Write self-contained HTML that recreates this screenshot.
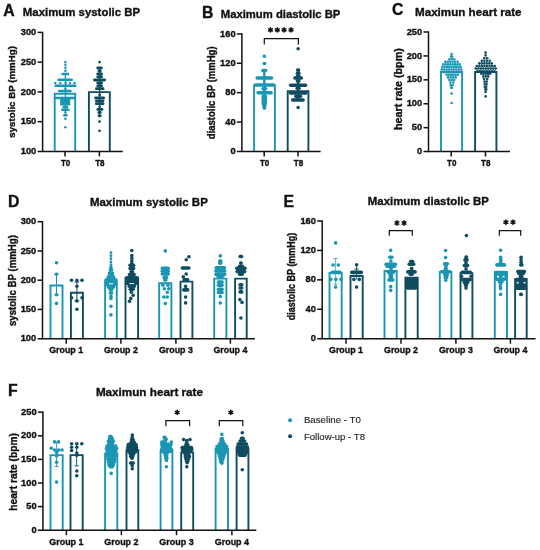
<!DOCTYPE html>
<html><head><meta charset="utf-8"><style>
html,body{margin:0;padding:0;background:#fff;}
svg{display:block;filter:blur(0.3px);font-family:"Liberation Sans", sans-serif;}
</style></head><body>
<svg width="540" height="550" viewBox="0 0 540 550">
<rect width="540" height="550" fill="#fff"/>
<path d="M54.7,151.4 V93.75 H75.2 V151.4" fill="none" stroke="#1a95b4" stroke-width="1.9" stroke-linejoin="miter"/>
<path d="M88.9,151.4 V92.15 H109.8 V151.4" fill="none" stroke="#0f4c60" stroke-width="1.9" stroke-linejoin="miter"/>
<path d="M254.1,151.4 V85.15 H274.9 V151.4" fill="none" stroke="#1a95b4" stroke-width="1.9" stroke-linejoin="miter"/>
<path d="M287.7,151.4 V91.25 H308.4 V151.4" fill="none" stroke="#0f4c60" stroke-width="1.9" stroke-linejoin="miter"/>
<path d="M441,151.6 V72.05 H462.1 V151.6" fill="none" stroke="#1a95b4" stroke-width="1.9" stroke-linejoin="miter"/>
<path d="M475.1,151.6 V72.05 H496.4 V151.6" fill="none" stroke="#0f4c60" stroke-width="1.9" stroke-linejoin="miter"/>
<path d="M50.5,338.7 V285.45 H62.5 V338.7" fill="none" stroke="#1a95b4" stroke-width="1.9" stroke-linejoin="miter"/>
<path d="M70.9,338.7 V292.7 H82.9 V338.7" fill="none" stroke="#0f4c60" stroke-width="1.9" stroke-linejoin="miter"/>
<path d="M105.1,338.7 V280.25 H116.8 V338.7" fill="none" stroke="#1a95b4" stroke-width="1.9" stroke-linejoin="miter"/>
<path d="M125.5,338.7 V277.65 H138.1 V338.7" fill="none" stroke="#0f4c60" stroke-width="1.9" stroke-linejoin="miter"/>
<path d="M159.2,338.7 V283.25 H171.4 V338.7" fill="none" stroke="#1a95b4" stroke-width="1.9" stroke-linejoin="miter"/>
<path d="M180.5,338.7 V281.65 H192.4 V338.7" fill="none" stroke="#0f4c60" stroke-width="1.9" stroke-linejoin="miter"/>
<path d="M214.2,338.7 V278.65 H226.4 V338.7" fill="none" stroke="#1a95b4" stroke-width="1.9" stroke-linejoin="miter"/>
<path d="M235.1,338.7 V278.65 H246.7 V338.7" fill="none" stroke="#0f4c60" stroke-width="1.9" stroke-linejoin="miter"/>
<path d="M329.5,338.7 V272.95 H341.7 V338.7" fill="none" stroke="#1a95b4" stroke-width="1.9" stroke-linejoin="miter"/>
<path d="M350.5,338.7 V275.95 H362.7 V338.7" fill="none" stroke="#0f4c60" stroke-width="1.9" stroke-linejoin="miter"/>
<path d="M384.5,338.7 V270.95 H396.7 V338.7" fill="none" stroke="#1a95b4" stroke-width="1.9" stroke-linejoin="miter"/>
<path d="M405.4,338.7 V277.65 H417.7 V338.7" fill="none" stroke="#0f4c60" stroke-width="1.9" stroke-linejoin="miter"/>
<path d="M439.8,338.7 V271.95 H451.4 V338.7" fill="none" stroke="#1a95b4" stroke-width="1.9" stroke-linejoin="miter"/>
<path d="M460.5,338.7 V273.25 H472.4 V338.7" fill="none" stroke="#0f4c60" stroke-width="1.9" stroke-linejoin="miter"/>
<path d="M494.8,338.7 V271.95 H507 V338.7" fill="none" stroke="#1a95b4" stroke-width="1.9" stroke-linejoin="miter"/>
<path d="M515.1,338.7 V279.25 H526.7 V338.7" fill="none" stroke="#0f4c60" stroke-width="1.9" stroke-linejoin="miter"/>
<path d="M50.5,530.2 V455.15 H62.7 V530.2" fill="none" stroke="#1a95b4" stroke-width="1.9" stroke-linejoin="miter"/>
<path d="M70.5,530.2 V455.15 H82.7 V530.2" fill="none" stroke="#0f4c60" stroke-width="1.9" stroke-linejoin="miter"/>
<path d="M105.1,530.2 V453.65 H117.3 V530.2" fill="none" stroke="#1a95b4" stroke-width="1.9" stroke-linejoin="miter"/>
<path d="M126.5,530.2 V450.25 H138.3 V530.2" fill="none" stroke="#0f4c60" stroke-width="1.9" stroke-linejoin="miter"/>
<path d="M160.6,530.2 V450.95 H172.4 V530.2" fill="none" stroke="#1a95b4" stroke-width="1.9" stroke-linejoin="miter"/>
<path d="M181.2,530.2 V452.65 H193.2 V530.2" fill="none" stroke="#0f4c60" stroke-width="1.9" stroke-linejoin="miter"/>
<path d="M215.6,530.2 V449.25 H228 V530.2" fill="none" stroke="#1a95b4" stroke-width="1.9" stroke-linejoin="miter"/>
<path d="M236.6,530.2 V448.65 H248.4 V530.2" fill="none" stroke="#0f4c60" stroke-width="1.9" stroke-linejoin="miter"/>
<text x="3.3" y="15.6" font-size="15.8" font-weight="bold" text-anchor="start" fill="#111" stroke="#111" stroke-width="0.35">A</text>
<text x="22.8" y="16.1" font-size="11.2" font-weight="bold" text-anchor="start" fill="#111" textLength="117.3" lengthAdjust="spacingAndGlyphs" stroke="#111" stroke-width="0.35">Maximum systolic BP</text>
<line x1="42.6" y1="31.8" x2="42.6" y2="152" stroke="#111" stroke-width="1.5"/>
<line x1="37.6" y1="151.4" x2="122.8" y2="151.4" stroke="#111" stroke-width="1.5"/>
<text x="36.3" y="154" font-size="9.3" font-weight="bold" text-anchor="end" fill="#111" stroke="#111" stroke-width="0.35">100</text>
<line x1="37.6" y1="121.65" x2="42.6" y2="121.65" stroke="#111" stroke-width="1.5"/>
<text x="36.3" y="124.25" font-size="9.3" font-weight="bold" text-anchor="end" fill="#111" stroke="#111" stroke-width="0.35">150</text>
<line x1="37.6" y1="91.9" x2="42.6" y2="91.9" stroke="#111" stroke-width="1.5"/>
<text x="36.3" y="94.5" font-size="9.3" font-weight="bold" text-anchor="end" fill="#111" stroke="#111" stroke-width="0.35">200</text>
<line x1="37.6" y1="62.15" x2="42.6" y2="62.15" stroke="#111" stroke-width="1.5"/>
<text x="36.3" y="64.75" font-size="9.3" font-weight="bold" text-anchor="end" fill="#111" stroke="#111" stroke-width="0.35">250</text>
<line x1="37.6" y1="32.4" x2="42.6" y2="32.4" stroke="#111" stroke-width="1.5"/>
<text x="36.3" y="35" font-size="9.3" font-weight="bold" text-anchor="end" fill="#111" stroke="#111" stroke-width="0.35">300</text>
<line x1="65" y1="151.4" x2="65" y2="156.4" stroke="#111" stroke-width="1.5"/>
<line x1="99.4" y1="151.4" x2="99.4" y2="156.4" stroke="#111" stroke-width="1.5"/>
<text x="15" y="91.9" font-size="9.6" font-weight="bold" text-anchor="middle" fill="#111" textLength="91.6" lengthAdjust="spacingAndGlyphs" transform="rotate(-90 15 91.9)" stroke="#111" stroke-width="0.35">systolic BP (mmHg)</text>
<text x="65.6" y="165.6" font-size="9.1" font-weight="bold" text-anchor="middle" fill="#111" textLength="9.4" lengthAdjust="spacingAndGlyphs" stroke="#111" stroke-width="0.35">T0</text>
<text x="99.9" y="165.6" font-size="9.1" font-weight="bold" text-anchor="middle" fill="#111" textLength="9.4" lengthAdjust="spacingAndGlyphs" stroke="#111" stroke-width="0.35">T8</text>
<text x="202" y="17.8" font-size="15.8" font-weight="bold" text-anchor="start" fill="#111" stroke="#111" stroke-width="0.35">B</text>
<text x="220.8" y="18.3" font-size="11.2" font-weight="bold" text-anchor="start" fill="#111" textLength="119.6" lengthAdjust="spacingAndGlyphs" stroke="#111" stroke-width="0.35">Maximum diastolic BP</text>
<line x1="241.9" y1="33.3" x2="241.9" y2="152" stroke="#111" stroke-width="1.5"/>
<line x1="236.9" y1="151.4" x2="320.6" y2="151.4" stroke="#111" stroke-width="1.5"/>
<text x="235.6" y="154" font-size="9.3" font-weight="bold" text-anchor="end" fill="#111" stroke="#111" stroke-width="0.35">0</text>
<line x1="236.9" y1="122.03" x2="241.9" y2="122.03" stroke="#111" stroke-width="1.5"/>
<text x="235.6" y="124.62" font-size="9.3" font-weight="bold" text-anchor="end" fill="#111" stroke="#111" stroke-width="0.35">40</text>
<line x1="236.9" y1="92.65" x2="241.9" y2="92.65" stroke="#111" stroke-width="1.5"/>
<text x="235.6" y="95.25" font-size="9.3" font-weight="bold" text-anchor="end" fill="#111" stroke="#111" stroke-width="0.35">80</text>
<line x1="236.9" y1="63.28" x2="241.9" y2="63.28" stroke="#111" stroke-width="1.5"/>
<text x="235.6" y="65.88" font-size="9.3" font-weight="bold" text-anchor="end" fill="#111" stroke="#111" stroke-width="0.35">120</text>
<line x1="236.9" y1="33.9" x2="241.9" y2="33.9" stroke="#111" stroke-width="1.5"/>
<text x="235.6" y="36.5" font-size="9.3" font-weight="bold" text-anchor="end" fill="#111" stroke="#111" stroke-width="0.35">160</text>
<line x1="264.2" y1="151.4" x2="264.2" y2="156.4" stroke="#111" stroke-width="1.5"/>
<line x1="298" y1="151.4" x2="298" y2="156.4" stroke="#111" stroke-width="1.5"/>
<text x="215.4" y="92.8" font-size="10" font-weight="bold" text-anchor="middle" fill="#111" textLength="92.8" lengthAdjust="spacingAndGlyphs" transform="rotate(-90 215.4 92.8)" stroke="#111" stroke-width="0.35">diastolic BP (mmHg)</text>
<text x="264.6" y="165.6" font-size="9.1" font-weight="bold" text-anchor="middle" fill="#111" textLength="9.4" lengthAdjust="spacingAndGlyphs" stroke="#111" stroke-width="0.35">T0</text>
<text x="298.5" y="165.6" font-size="9.1" font-weight="bold" text-anchor="middle" fill="#111" textLength="9.4" lengthAdjust="spacingAndGlyphs" stroke="#111" stroke-width="0.35">T8</text>
<path d="M264.3,44.6 V38.6 H298.4 V44.6" stroke="#111" stroke-width="1.2" fill="none"/>
<path d="M270.5,27.75L270.5,32.05M268.64,28.82L272.36,30.97M272.36,28.82L268.64,30.97" stroke="#111" stroke-width="1.6" stroke-linecap="round"/>
<path d="M277.3,27.75L277.3,32.05M275.44,28.82L279.16,30.97M279.16,28.82L275.44,30.97" stroke="#111" stroke-width="1.6" stroke-linecap="round"/>
<path d="M284.1,27.75L284.1,32.05M282.24,28.82L285.96,30.97M285.96,28.82L282.24,30.97" stroke="#111" stroke-width="1.6" stroke-linecap="round"/>
<path d="M291,27.75L291,32.05M289.14,28.82L292.86,30.97M292.86,28.82L289.14,30.97" stroke="#111" stroke-width="1.6" stroke-linecap="round"/>
<text x="391.9" y="15.3" font-size="15.8" font-weight="bold" text-anchor="start" fill="#111" stroke="#111" stroke-width="0.35">C</text>
<text x="415" y="16" font-size="11.2" font-weight="bold" text-anchor="start" fill="#111" textLength="106.6" lengthAdjust="spacingAndGlyphs" stroke="#111" stroke-width="0.35">Maximun heart rate</text>
<line x1="428.5" y1="31.4" x2="428.5" y2="152.2" stroke="#111" stroke-width="1.5"/>
<line x1="423.5" y1="151.6" x2="510" y2="151.6" stroke="#111" stroke-width="1.5"/>
<text x="422.2" y="154.2" font-size="9.3" font-weight="bold" text-anchor="end" fill="#111" stroke="#111" stroke-width="0.35">0</text>
<line x1="423.5" y1="127.68" x2="428.5" y2="127.68" stroke="#111" stroke-width="1.5"/>
<text x="422.2" y="130.28" font-size="9.3" font-weight="bold" text-anchor="end" fill="#111" stroke="#111" stroke-width="0.35">50</text>
<line x1="423.5" y1="103.76" x2="428.5" y2="103.76" stroke="#111" stroke-width="1.5"/>
<text x="422.2" y="106.36" font-size="9.3" font-weight="bold" text-anchor="end" fill="#111" stroke="#111" stroke-width="0.35">100</text>
<line x1="423.5" y1="79.84" x2="428.5" y2="79.84" stroke="#111" stroke-width="1.5"/>
<text x="422.2" y="82.44" font-size="9.3" font-weight="bold" text-anchor="end" fill="#111" stroke="#111" stroke-width="0.35">150</text>
<line x1="423.5" y1="55.92" x2="428.5" y2="55.92" stroke="#111" stroke-width="1.5"/>
<text x="422.2" y="58.52" font-size="9.3" font-weight="bold" text-anchor="end" fill="#111" stroke="#111" stroke-width="0.35">200</text>
<line x1="423.5" y1="32" x2="428.5" y2="32" stroke="#111" stroke-width="1.5"/>
<text x="422.2" y="34.6" font-size="9.3" font-weight="bold" text-anchor="end" fill="#111" stroke="#111" stroke-width="0.35">250</text>
<line x1="451.2" y1="151.6" x2="451.2" y2="156.6" stroke="#111" stroke-width="1.5"/>
<line x1="485.5" y1="151.6" x2="485.5" y2="156.6" stroke="#111" stroke-width="1.5"/>
<text x="402.4" y="89.1" font-size="10.9" font-weight="bold" text-anchor="middle" fill="#111" textLength="81.8" lengthAdjust="spacingAndGlyphs" transform="rotate(-90 402.4 89.1)" stroke="#111" stroke-width="0.35">heart rate (bpm)</text>
<text x="451.7" y="165.6" font-size="9.1" font-weight="bold" text-anchor="middle" fill="#111" textLength="9.4" lengthAdjust="spacingAndGlyphs" stroke="#111" stroke-width="0.35">T0</text>
<text x="485.7" y="165.6" font-size="9.1" font-weight="bold" text-anchor="middle" fill="#111" textLength="9.4" lengthAdjust="spacingAndGlyphs" stroke="#111" stroke-width="0.35">T8</text>
<text x="8" y="206.7" font-size="15.8" font-weight="bold" text-anchor="start" fill="#111" stroke="#111" stroke-width="0.35">D</text>
<text x="89.9" y="206.1" font-size="11.2" font-weight="bold" text-anchor="start" fill="#111" textLength="117.9" lengthAdjust="spacingAndGlyphs" stroke="#111" stroke-width="0.35">Maximum systolic BP</text>
<line x1="42.5" y1="221.1" x2="42.5" y2="339.3" stroke="#111" stroke-width="1.5"/>
<line x1="37.5" y1="338.7" x2="254.9" y2="338.7" stroke="#111" stroke-width="1.5"/>
<text x="36.2" y="341.3" font-size="9.3" font-weight="bold" text-anchor="end" fill="#111" stroke="#111" stroke-width="0.35">100</text>
<line x1="37.5" y1="309.45" x2="42.5" y2="309.45" stroke="#111" stroke-width="1.5"/>
<text x="36.2" y="312.05" font-size="9.3" font-weight="bold" text-anchor="end" fill="#111" stroke="#111" stroke-width="0.35">150</text>
<line x1="37.5" y1="280.2" x2="42.5" y2="280.2" stroke="#111" stroke-width="1.5"/>
<text x="36.2" y="282.8" font-size="9.3" font-weight="bold" text-anchor="end" fill="#111" stroke="#111" stroke-width="0.35">200</text>
<line x1="37.5" y1="250.95" x2="42.5" y2="250.95" stroke="#111" stroke-width="1.5"/>
<text x="36.2" y="253.55" font-size="9.3" font-weight="bold" text-anchor="end" fill="#111" stroke="#111" stroke-width="0.35">250</text>
<line x1="37.5" y1="221.7" x2="42.5" y2="221.7" stroke="#111" stroke-width="1.5"/>
<text x="36.2" y="224.3" font-size="9.3" font-weight="bold" text-anchor="end" fill="#111" stroke="#111" stroke-width="0.35">300</text>
<line x1="66.2" y1="338.7" x2="66.2" y2="343.7" stroke="#111" stroke-width="1.5"/>
<line x1="120.9" y1="338.7" x2="120.9" y2="343.7" stroke="#111" stroke-width="1.5"/>
<line x1="175.9" y1="338.7" x2="175.9" y2="343.7" stroke="#111" stroke-width="1.5"/>
<line x1="230.4" y1="338.7" x2="230.4" y2="343.7" stroke="#111" stroke-width="1.5"/>
<text x="16.4" y="280.6" font-size="10" font-weight="bold" text-anchor="middle" fill="#111" textLength="91" lengthAdjust="spacingAndGlyphs" transform="rotate(-90 16.4 280.6)" stroke="#111" stroke-width="0.35">systolic BP (mmHg)</text>
<text x="66.2" y="353" font-size="9.5" font-weight="bold" text-anchor="middle" fill="#111" textLength="34" lengthAdjust="spacingAndGlyphs" stroke="#111" stroke-width="0.35">Group 1</text>
<text x="120.9" y="353" font-size="9.5" font-weight="bold" text-anchor="middle" fill="#111" textLength="34" lengthAdjust="spacingAndGlyphs" stroke="#111" stroke-width="0.35">Group 2</text>
<text x="175.9" y="353" font-size="9.5" font-weight="bold" text-anchor="middle" fill="#111" textLength="34" lengthAdjust="spacingAndGlyphs" stroke="#111" stroke-width="0.35">Group 3</text>
<text x="230.4" y="353" font-size="9.5" font-weight="bold" text-anchor="middle" fill="#111" textLength="34" lengthAdjust="spacingAndGlyphs" stroke="#111" stroke-width="0.35">Group 4</text>
<text x="283.5" y="206.6" font-size="15.8" font-weight="bold" text-anchor="start" fill="#111" stroke="#111" stroke-width="0.35">E</text>
<text x="367.8" y="205" font-size="11.2" font-weight="bold" text-anchor="start" fill="#111" textLength="121.1" lengthAdjust="spacingAndGlyphs" stroke="#111" stroke-width="0.35">Maximum diastolic BP</text>
<line x1="322.2" y1="220.4" x2="322.2" y2="339.3" stroke="#111" stroke-width="1.5"/>
<line x1="317.2" y1="338.7" x2="535.5" y2="338.7" stroke="#111" stroke-width="1.5"/>
<text x="315.9" y="341.3" font-size="9.3" font-weight="bold" text-anchor="end" fill="#111" stroke="#111" stroke-width="0.35">0</text>
<line x1="317.2" y1="309.27" x2="322.2" y2="309.27" stroke="#111" stroke-width="1.5"/>
<text x="315.9" y="311.88" font-size="9.3" font-weight="bold" text-anchor="end" fill="#111" stroke="#111" stroke-width="0.35">40</text>
<line x1="317.2" y1="279.85" x2="322.2" y2="279.85" stroke="#111" stroke-width="1.5"/>
<text x="315.9" y="282.45" font-size="9.3" font-weight="bold" text-anchor="end" fill="#111" stroke="#111" stroke-width="0.35">80</text>
<line x1="317.2" y1="250.43" x2="322.2" y2="250.43" stroke="#111" stroke-width="1.5"/>
<text x="315.9" y="253.03" font-size="9.3" font-weight="bold" text-anchor="end" fill="#111" stroke="#111" stroke-width="0.35">120</text>
<line x1="317.2" y1="221" x2="322.2" y2="221" stroke="#111" stroke-width="1.5"/>
<text x="315.9" y="223.6" font-size="9.3" font-weight="bold" text-anchor="end" fill="#111" stroke="#111" stroke-width="0.35">160</text>
<line x1="346" y1="338.7" x2="346" y2="343.7" stroke="#111" stroke-width="1.5"/>
<line x1="401" y1="338.7" x2="401" y2="343.7" stroke="#111" stroke-width="1.5"/>
<line x1="455.9" y1="338.7" x2="455.9" y2="343.7" stroke="#111" stroke-width="1.5"/>
<line x1="510.4" y1="338.7" x2="510.4" y2="343.7" stroke="#111" stroke-width="1.5"/>
<text x="295.3" y="276.5" font-size="10.1" font-weight="bold" text-anchor="middle" fill="#111" textLength="87.5" lengthAdjust="spacingAndGlyphs" transform="rotate(-90 295.3 276.5)" stroke="#111" stroke-width="0.35">diastolic BP (mmHg)</text>
<text x="346" y="353" font-size="9.5" font-weight="bold" text-anchor="middle" fill="#111" textLength="34" lengthAdjust="spacingAndGlyphs" stroke="#111" stroke-width="0.35">Group 1</text>
<text x="401" y="353" font-size="9.5" font-weight="bold" text-anchor="middle" fill="#111" textLength="34" lengthAdjust="spacingAndGlyphs" stroke="#111" stroke-width="0.35">Group 2</text>
<text x="455.9" y="353" font-size="9.5" font-weight="bold" text-anchor="middle" fill="#111" textLength="34" lengthAdjust="spacingAndGlyphs" stroke="#111" stroke-width="0.35">Group 3</text>
<text x="510.4" y="353" font-size="9.5" font-weight="bold" text-anchor="middle" fill="#111" textLength="34" lengthAdjust="spacingAndGlyphs" stroke="#111" stroke-width="0.35">Group 4</text>
<path d="M389.3,235.7 V230.7 H412.3 V235.7" stroke="#111" stroke-width="1.2" fill="none"/>
<path d="M397,220.85L397,225.15M395.14,221.93L398.86,224.07M398.86,221.93L395.14,224.07" stroke="#111" stroke-width="1.6" stroke-linecap="round"/>
<path d="M404.1,220.85L404.1,225.15M402.24,221.93L405.96,224.07M405.96,221.93L402.24,224.07" stroke="#111" stroke-width="1.6" stroke-linecap="round"/>
<path d="M499.3,235.7 V230.7 H520.7 V235.7" stroke="#111" stroke-width="1.2" fill="none"/>
<path d="M505.9,220.05L505.9,224.35M504.04,221.12L507.76,223.27M507.76,221.12L504.04,223.27" stroke="#111" stroke-width="1.6" stroke-linecap="round"/>
<path d="M513,220.05L513,224.35M511.14,221.12L514.86,223.27M514.86,221.12L511.14,223.27" stroke="#111" stroke-width="1.6" stroke-linecap="round"/>
<text x="8" y="395.7" font-size="15.8" font-weight="bold" text-anchor="start" fill="#111" stroke="#111" stroke-width="0.35">F</text>
<text x="95.9" y="396.1" font-size="11.2" font-weight="bold" text-anchor="start" fill="#111" textLength="107.1" lengthAdjust="spacingAndGlyphs" stroke="#111" stroke-width="0.35">Maximun heart rate</text>
<line x1="42.9" y1="411.6" x2="42.9" y2="530.8" stroke="#111" stroke-width="1.5"/>
<line x1="37.9" y1="530.2" x2="256.3" y2="530.2" stroke="#111" stroke-width="1.5"/>
<text x="36.6" y="532.8" font-size="9.3" font-weight="bold" text-anchor="end" fill="#111" stroke="#111" stroke-width="0.35">0</text>
<line x1="37.9" y1="506.6" x2="42.9" y2="506.6" stroke="#111" stroke-width="1.5"/>
<text x="36.6" y="509.2" font-size="9.3" font-weight="bold" text-anchor="end" fill="#111" stroke="#111" stroke-width="0.35">50</text>
<line x1="37.9" y1="483" x2="42.9" y2="483" stroke="#111" stroke-width="1.5"/>
<text x="36.6" y="485.6" font-size="9.3" font-weight="bold" text-anchor="end" fill="#111" stroke="#111" stroke-width="0.35">100</text>
<line x1="37.9" y1="459.4" x2="42.9" y2="459.4" stroke="#111" stroke-width="1.5"/>
<text x="36.6" y="462" font-size="9.3" font-weight="bold" text-anchor="end" fill="#111" stroke="#111" stroke-width="0.35">150</text>
<line x1="37.9" y1="435.8" x2="42.9" y2="435.8" stroke="#111" stroke-width="1.5"/>
<text x="36.6" y="438.4" font-size="9.3" font-weight="bold" text-anchor="end" fill="#111" stroke="#111" stroke-width="0.35">200</text>
<line x1="37.9" y1="412.2" x2="42.9" y2="412.2" stroke="#111" stroke-width="1.5"/>
<text x="36.6" y="414.8" font-size="9.3" font-weight="bold" text-anchor="end" fill="#111" stroke="#111" stroke-width="0.35">250</text>
<line x1="66.4" y1="530.2" x2="66.4" y2="535.2" stroke="#111" stroke-width="1.5"/>
<line x1="121.4" y1="530.2" x2="121.4" y2="535.2" stroke="#111" stroke-width="1.5"/>
<line x1="176.5" y1="530.2" x2="176.5" y2="535.2" stroke="#111" stroke-width="1.5"/>
<line x1="231.9" y1="530.2" x2="231.9" y2="535.2" stroke="#111" stroke-width="1.5"/>
<text x="16.6" y="471.9" font-size="10.6" font-weight="bold" text-anchor="middle" fill="#111" textLength="77.6" lengthAdjust="spacingAndGlyphs" transform="rotate(-90 16.6 471.9)" stroke="#111" stroke-width="0.35">heart rate (bpm)</text>
<text x="66.4" y="545" font-size="9.5" font-weight="bold" text-anchor="middle" fill="#111" textLength="34.3" lengthAdjust="spacingAndGlyphs" stroke="#111" stroke-width="0.35">Group 1</text>
<text x="121.4" y="545" font-size="9.5" font-weight="bold" text-anchor="middle" fill="#111" textLength="34.3" lengthAdjust="spacingAndGlyphs" stroke="#111" stroke-width="0.35">Group 2</text>
<text x="176.5" y="545" font-size="9.5" font-weight="bold" text-anchor="middle" fill="#111" textLength="34.3" lengthAdjust="spacingAndGlyphs" stroke="#111" stroke-width="0.35">Group 3</text>
<text x="231.9" y="545" font-size="9.5" font-weight="bold" text-anchor="middle" fill="#111" textLength="34.3" lengthAdjust="spacingAndGlyphs" stroke="#111" stroke-width="0.35">Group 4</text>
<path d="M165.9,426.2 V420.7 H189.6 V426.2" stroke="#111" stroke-width="1.2" fill="none"/>
<path d="M177.2,410.25L177.2,414.55M175.34,411.32L179.06,413.47M179.06,411.32L175.34,413.47" stroke="#111" stroke-width="1.6" stroke-linecap="round"/>
<path d="M219.3,426.2 V420.7 H242.8 V426.2" stroke="#111" stroke-width="1.2" fill="none"/>
<path d="M230.8,410.25L230.8,414.55M228.94,411.32L232.66,413.47M232.66,411.32L228.94,413.47" stroke="#111" stroke-width="1.6" stroke-linecap="round"/>
<circle cx="290.1" cy="420.2" r="2" fill="#1a95b4"/>
<circle cx="290.1" cy="436.3" r="2" fill="#0f4c60"/>
<text x="303.9" y="423.4" font-size="9.5" font-weight="normal" text-anchor="start" fill="#222" textLength="57" lengthAdjust="spacingAndGlyphs" stroke="#222" stroke-width="0.12">Baseline - T0</text>
<text x="303.9" y="439.6" font-size="9.5" font-weight="normal" text-anchor="start" fill="#222" textLength="61.1" lengthAdjust="spacingAndGlyphs" stroke="#222" stroke-width="0.12">Follow-up - T8</text>
<line x1="65.4" y1="74" x2="65.4" y2="112" stroke="#1a95b4" stroke-width="1.3"/>
<circle cx="65.4" cy="62" r="1.25" fill="#1a95b4"/>
<circle cx="65.4" cy="64.8" r="1.25" fill="#1a95b4"/>
<circle cx="65.4" cy="67.8" r="1.25" fill="#1a95b4"/>
<circle cx="65.4" cy="70.8" r="1.25" fill="#1a95b4"/>
<line x1="62.55" y1="74" x2="68.05" y2="74" stroke="#1a95b4" stroke-width="2.5" stroke-linecap="round"/>
<line x1="58.55" y1="79.7" x2="71.75" y2="79.7" stroke="#1a95b4" stroke-width="2.5" stroke-linecap="round"/>
<line x1="55.55" y1="85.7" x2="75.25" y2="85.7" stroke="#1a95b4" stroke-width="2.5" stroke-linecap="round"/>
<circle cx="65.4" cy="88.7" r="1.25" fill="#1a95b4"/>
<line x1="59.25" y1="91" x2="70.45" y2="91" stroke="#1a95b4" stroke-width="2.5" stroke-linecap="round"/>
<line x1="55.95" y1="98" x2="74.05" y2="98" stroke="#1a95b4" stroke-width="2.5" stroke-linecap="round"/>
<line x1="61.25" y1="100.3" x2="69.05" y2="100.3" stroke="#1a95b4" stroke-width="2.5" stroke-linecap="round"/>
<line x1="61.25" y1="102.3" x2="69.05" y2="102.3" stroke="#1a95b4" stroke-width="2.5" stroke-linecap="round"/>
<line x1="61.25" y1="104.3" x2="69.05" y2="104.3" stroke="#1a95b4" stroke-width="2.5" stroke-linecap="round"/>
<line x1="63.55" y1="107" x2="67.05" y2="107" stroke="#1a95b4" stroke-width="2.5" stroke-linecap="round"/>
<line x1="62.25" y1="109.7" x2="68.45" y2="109.7" stroke="#1a95b4" stroke-width="2.5" stroke-linecap="round"/>
<circle cx="65.4" cy="112.5" r="1.25" fill="#1a95b4"/>
<line x1="64.25" y1="115.3" x2="66.45" y2="115.3" stroke="#1a95b4" stroke-width="2.5" stroke-linecap="round"/>
<circle cx="65.4" cy="118.7" r="1.25" fill="#1a95b4"/>
<circle cx="65.4" cy="127.3" r="1.25" fill="#1a95b4"/>
<circle cx="55.2" cy="83" r="1.25" fill="#1a95b4"/>
<circle cx="60.3" cy="83" r="1.25" fill="#1a95b4"/>
<circle cx="65.7" cy="83" r="1.25" fill="#1a95b4"/>
<circle cx="70" cy="83" r="1.25" fill="#1a95b4"/>
<circle cx="74.5" cy="83" r="1.25" fill="#1a95b4"/>
<line x1="99.6" y1="68" x2="99.6" y2="116" stroke="#0f4c60" stroke-width="1.3"/>
<circle cx="99.6" cy="62.1" r="1.38" fill="#0f4c60"/>
<line x1="97.68" y1="68" x2="101.42" y2="68" stroke="#0f4c60" stroke-width="2.76" stroke-linecap="round"/>
<line x1="98.88" y1="71" x2="100.32" y2="71" stroke="#0f4c60" stroke-width="2.76" stroke-linecap="round"/>
<line x1="97.68" y1="74" x2="101.62" y2="74" stroke="#0f4c60" stroke-width="2.76" stroke-linecap="round"/>
<line x1="97.68" y1="76.8" x2="101.62" y2="76.8" stroke="#0f4c60" stroke-width="2.76" stroke-linecap="round"/>
<line x1="94.38" y1="80" x2="104.62" y2="80" stroke="#0f4c60" stroke-width="2.76" stroke-linecap="round"/>
<line x1="97.68" y1="83" x2="101.62" y2="83" stroke="#0f4c60" stroke-width="2.76" stroke-linecap="round"/>
<line x1="97.68" y1="85.8" x2="101.62" y2="85.8" stroke="#0f4c60" stroke-width="2.76" stroke-linecap="round"/>
<line x1="96.38" y1="88.7" x2="103.12" y2="88.7" stroke="#0f4c60" stroke-width="2.76" stroke-linecap="round"/>
<circle cx="99.6" cy="95" r="1.38" fill="#0f4c60"/>
<line x1="95.58" y1="97.9" x2="103.72" y2="97.9" stroke="#0f4c60" stroke-width="2.76" stroke-linecap="round"/>
<line x1="96.28" y1="100.8" x2="103.12" y2="100.8" stroke="#0f4c60" stroke-width="2.76" stroke-linecap="round"/>
<line x1="96.28" y1="103.7" x2="103.12" y2="103.7" stroke="#0f4c60" stroke-width="2.76" stroke-linecap="round"/>
<circle cx="99.6" cy="106.8" r="1.38" fill="#0f4c60"/>
<line x1="97.78" y1="109.4" x2="102.02" y2="109.4" stroke="#0f4c60" stroke-width="2.76" stroke-linecap="round"/>
<line x1="98.88" y1="112.5" x2="100.32" y2="112.5" stroke="#0f4c60" stroke-width="2.76" stroke-linecap="round"/>
<line x1="98.88" y1="115.8" x2="100.32" y2="115.8" stroke="#0f4c60" stroke-width="2.76" stroke-linecap="round"/>
<circle cx="99.6" cy="121.6" r="1.38" fill="#0f4c60"/>
<circle cx="99.6" cy="130.8" r="1.38" fill="#0f4c60"/>
<line x1="264.3" y1="70" x2="264.3" y2="106" stroke="#1a95b4" stroke-width="2.4"/>
<circle cx="264.3" cy="56.2" r="1.75" fill="#1a95b4"/>
<line x1="264.25" y1="63.4" x2="264.55" y2="63.4" stroke="#1a95b4" stroke-width="3.5" stroke-linecap="round"/>
<line x1="262.85" y1="70.6" x2="265.65" y2="70.6" stroke="#1a95b4" stroke-width="3.5" stroke-linecap="round"/>
<line x1="257.15" y1="78" x2="271.55" y2="78" stroke="#1a95b4" stroke-width="3.5" stroke-linecap="round"/>
<line x1="255.55" y1="84.9" x2="273.45" y2="84.9" stroke="#1a95b4" stroke-width="3.5" stroke-linecap="round"/>
<line x1="262.95" y1="88.7" x2="265.65" y2="88.7" stroke="#1a95b4" stroke-width="3.5" stroke-linecap="round"/>
<line x1="258.05" y1="92.7" x2="271.15" y2="92.7" stroke="#1a95b4" stroke-width="3.5" stroke-linecap="round"/>
<line x1="263.15" y1="96.2" x2="265.45" y2="96.2" stroke="#1a95b4" stroke-width="3.5" stroke-linecap="round"/>
<line x1="263.15" y1="98.8" x2="265.45" y2="98.8" stroke="#1a95b4" stroke-width="3.5" stroke-linecap="round"/>
<line x1="263.15" y1="101.2" x2="265.45" y2="101.2" stroke="#1a95b4" stroke-width="3.5" stroke-linecap="round"/>
<line x1="263.15" y1="103.6" x2="265.45" y2="103.6" stroke="#1a95b4" stroke-width="3.5" stroke-linecap="round"/>
<line x1="263.75" y1="105.9" x2="264.85" y2="105.9" stroke="#1a95b4" stroke-width="3.5" stroke-linecap="round"/>
<circle cx="264.3" cy="108.2" r="1.75" fill="#1a95b4"/>
<line x1="298.1" y1="70" x2="298.1" y2="101" stroke="#0f4c60" stroke-width="2.4"/>
<circle cx="298.1" cy="48.7" r="1.75" fill="#0f4c60"/>
<line x1="297.65" y1="70.1" x2="298.55" y2="70.1" stroke="#0f4c60" stroke-width="3.5" stroke-linecap="round"/>
<line x1="297.35" y1="73.2" x2="298.85" y2="73.2" stroke="#0f4c60" stroke-width="3.5" stroke-linecap="round"/>
<line x1="297.35" y1="75.9" x2="298.85" y2="75.9" stroke="#0f4c60" stroke-width="3.5" stroke-linecap="round"/>
<line x1="294.85" y1="78" x2="301.35" y2="78" stroke="#0f4c60" stroke-width="3.5" stroke-linecap="round"/>
<line x1="297.35" y1="81" x2="298.85" y2="81" stroke="#0f4c60" stroke-width="3.5" stroke-linecap="round"/>
<line x1="290.65" y1="85.2" x2="305.55" y2="85.2" stroke="#0f4c60" stroke-width="3.5" stroke-linecap="round"/>
<line x1="297.15" y1="88.3" x2="299.05" y2="88.3" stroke="#0f4c60" stroke-width="3.5" stroke-linecap="round"/>
<line x1="290.35" y1="93.1" x2="305.85" y2="93.1" stroke="#0f4c60" stroke-width="3.5" stroke-linecap="round"/>
<line x1="295.75" y1="96.2" x2="300.45" y2="96.2" stroke="#0f4c60" stroke-width="3.5" stroke-linecap="round"/>
<line x1="292.65" y1="100.1" x2="303.15" y2="100.1" stroke="#0f4c60" stroke-width="3.5" stroke-linecap="round"/>
<circle cx="298.1" cy="107.5" r="1.75" fill="#0f4c60"/>
<circle cx="451.6" cy="54" r="1.3" fill="#1a95b4"/>
<circle cx="451.1" cy="56.6" r="1.3" fill="#1a95b4"/>
<circle cx="452.1" cy="56.6" r="1.3" fill="#1a95b4"/>
<circle cx="449.3" cy="59.2" r="1.3" fill="#1a95b4"/>
<circle cx="451.75" cy="59.2" r="1.3" fill="#1a95b4"/>
<circle cx="454.2" cy="59.2" r="1.3" fill="#1a95b4"/>
<circle cx="445.3" cy="61.8" r="1.3" fill="#1a95b4"/>
<circle cx="447.78" cy="61.8" r="1.3" fill="#1a95b4"/>
<circle cx="450.26" cy="61.8" r="1.3" fill="#1a95b4"/>
<circle cx="452.74" cy="61.8" r="1.3" fill="#1a95b4"/>
<circle cx="455.22" cy="61.8" r="1.3" fill="#1a95b4"/>
<circle cx="457.7" cy="61.8" r="1.3" fill="#1a95b4"/>
<circle cx="443.3" cy="64.4" r="1.3" fill="#1a95b4"/>
<circle cx="445.64" cy="64.4" r="1.3" fill="#1a95b4"/>
<circle cx="447.99" cy="64.4" r="1.3" fill="#1a95b4"/>
<circle cx="450.33" cy="64.4" r="1.3" fill="#1a95b4"/>
<circle cx="452.67" cy="64.4" r="1.3" fill="#1a95b4"/>
<circle cx="455.01" cy="64.4" r="1.3" fill="#1a95b4"/>
<circle cx="457.36" cy="64.4" r="1.3" fill="#1a95b4"/>
<circle cx="459.7" cy="64.4" r="1.3" fill="#1a95b4"/>
<circle cx="442.3" cy="67" r="1.3" fill="#1a95b4"/>
<circle cx="444.6" cy="67" r="1.3" fill="#1a95b4"/>
<circle cx="446.9" cy="67" r="1.3" fill="#1a95b4"/>
<circle cx="449.2" cy="67" r="1.3" fill="#1a95b4"/>
<circle cx="451.5" cy="67" r="1.3" fill="#1a95b4"/>
<circle cx="453.8" cy="67" r="1.3" fill="#1a95b4"/>
<circle cx="456.1" cy="67" r="1.3" fill="#1a95b4"/>
<circle cx="458.4" cy="67" r="1.3" fill="#1a95b4"/>
<circle cx="460.7" cy="67" r="1.3" fill="#1a95b4"/>
<circle cx="441.8" cy="69.6" r="1.3" fill="#1a95b4"/>
<circle cx="444.23" cy="69.6" r="1.3" fill="#1a95b4"/>
<circle cx="446.65" cy="69.6" r="1.3" fill="#1a95b4"/>
<circle cx="449.07" cy="69.6" r="1.3" fill="#1a95b4"/>
<circle cx="451.5" cy="69.6" r="1.3" fill="#1a95b4"/>
<circle cx="453.93" cy="69.6" r="1.3" fill="#1a95b4"/>
<circle cx="456.35" cy="69.6" r="1.3" fill="#1a95b4"/>
<circle cx="458.77" cy="69.6" r="1.3" fill="#1a95b4"/>
<circle cx="461.2" cy="69.6" r="1.3" fill="#1a95b4"/>
<circle cx="444.3" cy="72.2" r="1.3" fill="#1a95b4"/>
<circle cx="446.87" cy="72.2" r="1.3" fill="#1a95b4"/>
<circle cx="449.43" cy="72.2" r="1.3" fill="#1a95b4"/>
<circle cx="452" cy="72.2" r="1.3" fill="#1a95b4"/>
<circle cx="454.57" cy="72.2" r="1.3" fill="#1a95b4"/>
<circle cx="457.13" cy="72.2" r="1.3" fill="#1a95b4"/>
<circle cx="459.7" cy="72.2" r="1.3" fill="#1a95b4"/>
<circle cx="446.6" cy="74.8" r="1.3" fill="#1a95b4"/>
<circle cx="448.82" cy="74.8" r="1.3" fill="#1a95b4"/>
<circle cx="451.04" cy="74.8" r="1.3" fill="#1a95b4"/>
<circle cx="453.26" cy="74.8" r="1.3" fill="#1a95b4"/>
<circle cx="455.48" cy="74.8" r="1.3" fill="#1a95b4"/>
<circle cx="457.7" cy="74.8" r="1.3" fill="#1a95b4"/>
<circle cx="448" cy="77.4" r="1.3" fill="#1a95b4"/>
<circle cx="450.57" cy="77.4" r="1.3" fill="#1a95b4"/>
<circle cx="453.13" cy="77.4" r="1.3" fill="#1a95b4"/>
<circle cx="455.7" cy="77.4" r="1.3" fill="#1a95b4"/>
<circle cx="449.3" cy="80" r="1.3" fill="#1a95b4"/>
<circle cx="451.75" cy="80" r="1.3" fill="#1a95b4"/>
<circle cx="454.2" cy="80" r="1.3" fill="#1a95b4"/>
<circle cx="450.3" cy="82.6" r="1.3" fill="#1a95b4"/>
<circle cx="453.2" cy="82.6" r="1.3" fill="#1a95b4"/>
<circle cx="450.7" cy="85.2" r="1.3" fill="#1a95b4"/>
<circle cx="452.5" cy="85.2" r="1.3" fill="#1a95b4"/>
<circle cx="451.3" cy="87.8" r="1.3" fill="#1a95b4"/>
<circle cx="451.9" cy="87.8" r="1.3" fill="#1a95b4"/>
<circle cx="451.6" cy="93.6" r="1.3" fill="#1a95b4"/>
<circle cx="451.6" cy="103" r="1.3" fill="#1a95b4"/>
<circle cx="485.6" cy="52.6" r="1.3" fill="#0f4c60"/>
<circle cx="485.6" cy="55.4" r="1.3" fill="#0f4c60"/>
<circle cx="484.3" cy="58.2" r="1.3" fill="#0f4c60"/>
<circle cx="487.2" cy="58.2" r="1.3" fill="#0f4c60"/>
<circle cx="481.8" cy="60.8" r="1.3" fill="#0f4c60"/>
<circle cx="484.43" cy="60.8" r="1.3" fill="#0f4c60"/>
<circle cx="487.07" cy="60.8" r="1.3" fill="#0f4c60"/>
<circle cx="489.7" cy="60.8" r="1.3" fill="#0f4c60"/>
<circle cx="479.3" cy="63.4" r="1.3" fill="#0f4c60"/>
<circle cx="481.78" cy="63.4" r="1.3" fill="#0f4c60"/>
<circle cx="484.26" cy="63.4" r="1.3" fill="#0f4c60"/>
<circle cx="486.74" cy="63.4" r="1.3" fill="#0f4c60"/>
<circle cx="489.22" cy="63.4" r="1.3" fill="#0f4c60"/>
<circle cx="491.7" cy="63.4" r="1.3" fill="#0f4c60"/>
<circle cx="476.8" cy="66" r="1.3" fill="#0f4c60"/>
<circle cx="479.36" cy="66" r="1.3" fill="#0f4c60"/>
<circle cx="481.91" cy="66" r="1.3" fill="#0f4c60"/>
<circle cx="484.47" cy="66" r="1.3" fill="#0f4c60"/>
<circle cx="487.03" cy="66" r="1.3" fill="#0f4c60"/>
<circle cx="489.59" cy="66" r="1.3" fill="#0f4c60"/>
<circle cx="492.14" cy="66" r="1.3" fill="#0f4c60"/>
<circle cx="494.7" cy="66" r="1.3" fill="#0f4c60"/>
<circle cx="475.8" cy="68.6" r="1.3" fill="#0f4c60"/>
<circle cx="478.29" cy="68.6" r="1.3" fill="#0f4c60"/>
<circle cx="480.77" cy="68.6" r="1.3" fill="#0f4c60"/>
<circle cx="483.26" cy="68.6" r="1.3" fill="#0f4c60"/>
<circle cx="485.75" cy="68.6" r="1.3" fill="#0f4c60"/>
<circle cx="488.24" cy="68.6" r="1.3" fill="#0f4c60"/>
<circle cx="490.73" cy="68.6" r="1.3" fill="#0f4c60"/>
<circle cx="493.21" cy="68.6" r="1.3" fill="#0f4c60"/>
<circle cx="495.7" cy="68.6" r="1.3" fill="#0f4c60"/>
<circle cx="477.3" cy="71.2" r="1.3" fill="#0f4c60"/>
<circle cx="479.71" cy="71.2" r="1.3" fill="#0f4c60"/>
<circle cx="482.13" cy="71.2" r="1.3" fill="#0f4c60"/>
<circle cx="484.54" cy="71.2" r="1.3" fill="#0f4c60"/>
<circle cx="486.96" cy="71.2" r="1.3" fill="#0f4c60"/>
<circle cx="489.37" cy="71.2" r="1.3" fill="#0f4c60"/>
<circle cx="491.79" cy="71.2" r="1.3" fill="#0f4c60"/>
<circle cx="494.2" cy="71.2" r="1.3" fill="#0f4c60"/>
<circle cx="481.3" cy="73.8" r="1.3" fill="#0f4c60"/>
<circle cx="483.52" cy="73.8" r="1.3" fill="#0f4c60"/>
<circle cx="485.75" cy="73.8" r="1.3" fill="#0f4c60"/>
<circle cx="487.98" cy="73.8" r="1.3" fill="#0f4c60"/>
<circle cx="490.2" cy="73.8" r="1.3" fill="#0f4c60"/>
<circle cx="483.3" cy="76.4" r="1.3" fill="#0f4c60"/>
<circle cx="485.75" cy="76.4" r="1.3" fill="#0f4c60"/>
<circle cx="488.2" cy="76.4" r="1.3" fill="#0f4c60"/>
<circle cx="484.1" cy="79" r="1.3" fill="#0f4c60"/>
<circle cx="487.2" cy="79" r="1.3" fill="#0f4c60"/>
<circle cx="484.5" cy="81.6" r="1.3" fill="#0f4c60"/>
<circle cx="486.7" cy="81.6" r="1.3" fill="#0f4c60"/>
<circle cx="484.8" cy="84.2" r="1.3" fill="#0f4c60"/>
<circle cx="486.5" cy="84.2" r="1.3" fill="#0f4c60"/>
<circle cx="484.8" cy="86.8" r="1.3" fill="#0f4c60"/>
<circle cx="486.2" cy="86.8" r="1.3" fill="#0f4c60"/>
<circle cx="485.3" cy="89.4" r="1.3" fill="#0f4c60"/>
<circle cx="486.2" cy="89.4" r="1.3" fill="#0f4c60"/>
<circle cx="485.6" cy="92" r="1.3" fill="#0f4c60"/>
<circle cx="485.6" cy="96.4" r="1.3" fill="#0f4c60"/>
<line x1="56.5" y1="274.2" x2="56.5" y2="295" stroke="#1a95b4" stroke-width="1"/>
<line x1="54.3" y1="274.2" x2="58.7" y2="274.2" stroke="#1a95b4" stroke-width="1"/>
<line x1="54.3" y1="295" x2="58.7" y2="295" stroke="#1a95b4" stroke-width="1"/>
<circle cx="56.5" cy="262.7" r="1.8" fill="#1a95b4"/>
<circle cx="56.5" cy="274.2" r="1.8" fill="#1a95b4"/>
<circle cx="56.5" cy="294.8" r="1.8" fill="#1a95b4"/>
<circle cx="56.5" cy="303.4" r="1.8" fill="#1a95b4"/>
<line x1="76.9" y1="282" x2="76.9" y2="301" stroke="#0f4c60" stroke-width="1"/>
<line x1="74.5" y1="282" x2="79.3" y2="282" stroke="#0f4c60" stroke-width="1"/>
<line x1="74.5" y1="301" x2="79.3" y2="301" stroke="#0f4c60" stroke-width="1"/>
<circle cx="71.5" cy="280.3" r="1.8" fill="#0f4c60"/>
<circle cx="76.9" cy="280.3" r="1.8" fill="#0f4c60"/>
<circle cx="82" cy="280.3" r="1.8" fill="#0f4c60"/>
<circle cx="76.9" cy="286.3" r="1.8" fill="#0f4c60"/>
<circle cx="71.6" cy="297.7" r="1.8" fill="#0f4c60"/>
<circle cx="82" cy="297.7" r="1.8" fill="#0f4c60"/>
<circle cx="76.9" cy="300.9" r="1.8" fill="#0f4c60"/>
<circle cx="76.9" cy="309.2" r="1.8" fill="#0f4c60"/>
<circle cx="110.95" cy="252.6" r="1.45" fill="#1a95b4"/>
<circle cx="110.95" cy="255.7" r="1.45" fill="#1a95b4"/>
<circle cx="110.95" cy="258.8" r="1.45" fill="#1a95b4"/>
<circle cx="110.95" cy="261.9" r="1.45" fill="#1a95b4"/>
<circle cx="110.95" cy="264.8" r="1.45" fill="#1a95b4"/>
<circle cx="110.95" cy="267.4" r="1.8" fill="#1a95b4"/>
<line x1="110.3" y1="270.1" x2="111.6" y2="270.1" stroke="#1a95b4" stroke-width="3.6" stroke-linecap="round"/>
<line x1="109.45" y1="273.4" x2="112.45" y2="273.4" stroke="#1a95b4" stroke-width="3.6" stroke-linecap="round"/>
<line x1="108.35" y1="276.7" x2="113.55" y2="276.7" stroke="#1a95b4" stroke-width="3.6" stroke-linecap="round"/>
<line x1="106.65" y1="279.6" x2="115.25" y2="279.6" stroke="#1a95b4" stroke-width="3.6" stroke-linecap="round"/>
<line x1="106.65" y1="282.2" x2="115.25" y2="282.2" stroke="#1a95b4" stroke-width="3.6" stroke-linecap="round"/>
<line x1="107" y1="284.8" x2="114.9" y2="284.8" stroke="#1a95b4" stroke-width="3.6" stroke-linecap="round"/>
<line x1="108.6" y1="287.2" x2="113.3" y2="287.2" stroke="#1a95b4" stroke-width="3.6" stroke-linecap="round"/>
<line x1="110.3" y1="289.8" x2="111.6" y2="289.8" stroke="#1a95b4" stroke-width="3.6" stroke-linecap="round"/>
<line x1="110.3" y1="293" x2="111.6" y2="293" stroke="#1a95b4" stroke-width="3.6" stroke-linecap="round"/>
<circle cx="110.95" cy="296.3" r="1.8" fill="#1a95b4"/>
<circle cx="110.95" cy="298.5" r="1.8" fill="#1a95b4"/>
<circle cx="110.95" cy="306.2" r="1.8" fill="#1a95b4"/>
<circle cx="110.95" cy="314.9" r="1.8" fill="#1a95b4"/>
<circle cx="131.8" cy="250.5" r="1.8" fill="#0f4c60"/>
<circle cx="131.8" cy="255.6" r="1.8" fill="#0f4c60"/>
<circle cx="131.8" cy="258.2" r="1.8" fill="#0f4c60"/>
<circle cx="131.8" cy="260.8" r="1.8" fill="#0f4c60"/>
<circle cx="131.8" cy="263.2" r="1.8" fill="#0f4c60"/>
<line x1="130.05" y1="265.2" x2="133.55" y2="265.2" stroke="#0f4c60" stroke-width="3.6" stroke-linecap="round"/>
<line x1="130.05" y1="268.5" x2="133.55" y2="268.5" stroke="#0f4c60" stroke-width="3.6" stroke-linecap="round"/>
<line x1="131.1" y1="271.7" x2="132.5" y2="271.7" stroke="#0f4c60" stroke-width="3.6" stroke-linecap="round"/>
<line x1="129.5" y1="274.5" x2="134.1" y2="274.5" stroke="#0f4c60" stroke-width="3.6" stroke-linecap="round"/>
<line x1="127.1" y1="277.8" x2="136.5" y2="277.8" stroke="#0f4c60" stroke-width="3.6" stroke-linecap="round"/>
<line x1="127.1" y1="280.5" x2="136.5" y2="280.5" stroke="#0f4c60" stroke-width="3.6" stroke-linecap="round"/>
<line x1="127.1" y1="283.2" x2="136.5" y2="283.2" stroke="#0f4c60" stroke-width="3.6" stroke-linecap="round"/>
<line x1="129.25" y1="286.3" x2="134.35" y2="286.3" stroke="#0f4c60" stroke-width="3.6" stroke-linecap="round"/>
<line x1="130.35" y1="289.2" x2="133.25" y2="289.2" stroke="#0f4c60" stroke-width="3.6" stroke-linecap="round"/>
<circle cx="131.3" cy="292.3" r="1.8" fill="#0f4c60"/>
<circle cx="133.2" cy="295.2" r="1.8" fill="#0f4c60"/>
<circle cx="130.8" cy="298.4" r="1.8" fill="#0f4c60"/>
<circle cx="129.5" cy="301.2" r="1.8" fill="#0f4c60"/>
<line x1="108.8" y1="283.8" x2="113.2" y2="283.8" stroke="#fff" stroke-width="1"/>
<line x1="129.5" y1="283.6" x2="134" y2="283.6" stroke="#fff" stroke-width="1"/>
<circle cx="165.3" cy="250.9" r="1.8" fill="#1a95b4"/>
<line x1="162.3" y1="268.4" x2="168.2" y2="268.4" stroke="#1a95b4" stroke-width="3.6" stroke-linecap="round"/>
<line x1="162.3" y1="271.2" x2="168.2" y2="271.2" stroke="#1a95b4" stroke-width="3.6" stroke-linecap="round"/>
<line x1="162.3" y1="274" x2="168.2" y2="274" stroke="#1a95b4" stroke-width="3.6" stroke-linecap="round"/>
<line x1="164.1" y1="277.5" x2="166.5" y2="277.5" stroke="#1a95b4" stroke-width="3.6" stroke-linecap="round"/>
<line x1="164.8" y1="279.9" x2="165.8" y2="279.9" stroke="#1a95b4" stroke-width="3.6" stroke-linecap="round"/>
<circle cx="162.8" cy="285.2" r="1.8" fill="#1a95b4"/>
<circle cx="168" cy="285.2" r="1.8" fill="#1a95b4"/>
<circle cx="164.4" cy="288.7" r="1.8" fill="#1a95b4"/>
<circle cx="168.8" cy="288.7" r="1.8" fill="#1a95b4"/>
<circle cx="167.3" cy="292.3" r="1.8" fill="#1a95b4"/>
<circle cx="163.8" cy="297" r="1.8" fill="#1a95b4"/>
<circle cx="167.2" cy="297" r="1.8" fill="#1a95b4"/>
<circle cx="165.3" cy="303.5" r="1.8" fill="#1a95b4"/>
<circle cx="188.9" cy="256.8" r="1.8" fill="#0f4c60"/>
<circle cx="186.2" cy="259.8" r="1.8" fill="#0f4c60"/>
<circle cx="186.2" cy="274" r="1.8" fill="#0f4c60"/>
<circle cx="183.3" cy="276.9" r="1.8" fill="#0f4c60"/>
<circle cx="185.6" cy="286.4" r="1.8" fill="#0f4c60"/>
<circle cx="185.6" cy="297" r="1.8" fill="#0f4c60"/>
<circle cx="185.6" cy="302.9" r="1.8" fill="#0f4c60"/>
<line x1="182.4" y1="268" x2="188.8" y2="268" stroke="#0f4c60" stroke-width="3.6" stroke-linecap="round"/>
<line x1="184.2" y1="279.9" x2="187.7" y2="279.9" stroke="#0f4c60" stroke-width="3.6" stroke-linecap="round"/>
<line x1="183.8" y1="289.9" x2="187.7" y2="289.9" stroke="#0f4c60" stroke-width="3.6" stroke-linecap="round"/>
<circle cx="220.3" cy="255.9" r="1.8" fill="#1a95b4"/>
<line x1="219.8" y1="261.1" x2="220.8" y2="261.1" stroke="#1a95b4" stroke-width="3.6" stroke-linecap="round"/>
<line x1="219.8" y1="263.1" x2="220.8" y2="263.1" stroke="#1a95b4" stroke-width="3.6" stroke-linecap="round"/>
<line x1="216.2" y1="267.7" x2="224.4" y2="267.7" stroke="#1a95b4" stroke-width="3.6" stroke-linecap="round"/>
<line x1="215.95" y1="270.9" x2="224.65" y2="270.9" stroke="#1a95b4" stroke-width="3.6" stroke-linecap="round"/>
<line x1="215.95" y1="274.2" x2="224.65" y2="274.2" stroke="#1a95b4" stroke-width="3.6" stroke-linecap="round"/>
<line x1="218.1" y1="276.2" x2="222.5" y2="276.2" stroke="#1a95b4" stroke-width="3.6" stroke-linecap="round"/>
<line x1="218.5" y1="282.1" x2="222.1" y2="282.1" stroke="#1a95b4" stroke-width="3.6" stroke-linecap="round"/>
<line x1="218.5" y1="285.3" x2="222.1" y2="285.3" stroke="#1a95b4" stroke-width="3.6" stroke-linecap="round"/>
<line x1="218.5" y1="289.3" x2="222.1" y2="289.3" stroke="#1a95b4" stroke-width="3.6" stroke-linecap="round"/>
<line x1="218.5" y1="292.5" x2="222.1" y2="292.5" stroke="#1a95b4" stroke-width="3.6" stroke-linecap="round"/>
<circle cx="220.3" cy="296.5" r="1.8" fill="#1a95b4"/>
<circle cx="220.3" cy="303" r="1.8" fill="#1a95b4"/>
<line x1="240.2" y1="256.5" x2="241.6" y2="256.5" stroke="#0f4c60" stroke-width="3.6" stroke-linecap="round"/>
<line x1="240.7" y1="263.1" x2="241.1" y2="263.1" stroke="#0f4c60" stroke-width="3.6" stroke-linecap="round"/>
<line x1="239.45" y1="266.4" x2="242.35" y2="266.4" stroke="#0f4c60" stroke-width="3.6" stroke-linecap="round"/>
<line x1="236.8" y1="268.3" x2="245" y2="268.3" stroke="#0f4c60" stroke-width="3.6" stroke-linecap="round"/>
<line x1="237.2" y1="271.6" x2="244.6" y2="271.6" stroke="#0f4c60" stroke-width="3.6" stroke-linecap="round"/>
<line x1="239.7" y1="274.2" x2="242.1" y2="274.2" stroke="#0f4c60" stroke-width="3.6" stroke-linecap="round"/>
<line x1="240.1" y1="284.7" x2="241.7" y2="284.7" stroke="#0f4c60" stroke-width="3.6" stroke-linecap="round"/>
<line x1="240.1" y1="288" x2="241.7" y2="288" stroke="#0f4c60" stroke-width="3.6" stroke-linecap="round"/>
<line x1="240.1" y1="291.9" x2="241.7" y2="291.9" stroke="#0f4c60" stroke-width="3.6" stroke-linecap="round"/>
<circle cx="240.9" cy="318" r="1.8" fill="#0f4c60"/>
<circle cx="239.8" cy="299.6" r="1.8" fill="#0f4c60"/>
<circle cx="242" cy="302.4" r="1.8" fill="#0f4c60"/>
<line x1="335.6" y1="258.5" x2="335.6" y2="284.3" stroke="#1a95b4" stroke-width="0.7"/>
<line x1="333.4" y1="258.5" x2="337.8" y2="258.5" stroke="#1a95b4" stroke-width="0.7"/>
<line x1="333.4" y1="284.3" x2="337.8" y2="284.3" stroke="#1a95b4" stroke-width="0.7"/>
<circle cx="335.6" cy="242.9" r="1.8" fill="#1a95b4"/>
<circle cx="333.1" cy="265" r="1.8" fill="#1a95b4"/>
<circle cx="338.4" cy="265" r="1.8" fill="#1a95b4"/>
<circle cx="330.9" cy="279.4" r="1.8" fill="#1a95b4"/>
<circle cx="335.8" cy="279.4" r="1.8" fill="#1a95b4"/>
<circle cx="341" cy="279.4" r="1.8" fill="#1a95b4"/>
<circle cx="335.6" cy="287.1" r="1.8" fill="#1a95b4"/>
<line x1="332.2" y1="272.4" x2="340" y2="272.4" stroke="#1a95b4" stroke-width="3.6" stroke-linecap="round"/>
<line x1="356.6" y1="264.7" x2="356.6" y2="279.4" stroke="#0f4c60" stroke-width="0.9"/>
<line x1="354.4" y1="269.1" x2="358.8" y2="269.1" stroke="#0f4c60" stroke-width="0.9"/>
<circle cx="356.6" cy="264.7" r="1.8" fill="#0f4c60"/>
<circle cx="353.9" cy="279.4" r="1.8" fill="#0f4c60"/>
<circle cx="359.3" cy="279.4" r="1.8" fill="#0f4c60"/>
<circle cx="356.6" cy="287.1" r="1.8" fill="#0f4c60"/>
<line x1="351.8" y1="272.4" x2="361.3" y2="272.4" stroke="#0f4c60" stroke-width="3.6" stroke-linecap="round"/>
<circle cx="390.7" cy="250.4" r="1.8" fill="#1a95b4"/>
<line x1="389.8" y1="257.2" x2="391.9" y2="257.2" stroke="#1a95b4" stroke-width="3.6" stroke-linecap="round"/>
<circle cx="390.9" cy="261" r="1.8" fill="#1a95b4"/>
<line x1="386.1" y1="264.3" x2="395.5" y2="264.3" stroke="#1a95b4" stroke-width="3.6" stroke-linecap="round"/>
<line x1="387.1" y1="266.2" x2="394.5" y2="266.2" stroke="#1a95b4" stroke-width="3.6" stroke-linecap="round"/>
<line x1="390.8" y1="268.6" x2="391.2" y2="268.6" stroke="#1a95b4" stroke-width="3.6" stroke-linecap="round"/>
<line x1="388.4" y1="272.4" x2="393.3" y2="272.4" stroke="#1a95b4" stroke-width="3.6" stroke-linecap="round"/>
<line x1="390.3" y1="275.2" x2="391.4" y2="275.2" stroke="#1a95b4" stroke-width="3.6" stroke-linecap="round"/>
<line x1="390.3" y1="277.6" x2="391.4" y2="277.6" stroke="#1a95b4" stroke-width="3.6" stroke-linecap="round"/>
<line x1="388.9" y1="280" x2="392.9" y2="280" stroke="#1a95b4" stroke-width="3.6" stroke-linecap="round"/>
<circle cx="390.7" cy="286.6" r="1.8" fill="#1a95b4"/>
<circle cx="390.7" cy="290.4" r="1.8" fill="#1a95b4"/>
<line x1="410.7" y1="261.5" x2="412.7" y2="261.5" stroke="#0f4c60" stroke-width="3.6" stroke-linecap="round"/>
<line x1="409.2" y1="264.3" x2="413.7" y2="264.3" stroke="#0f4c60" stroke-width="3.6" stroke-linecap="round"/>
<line x1="411.4" y1="268.6" x2="411.8" y2="268.6" stroke="#0f4c60" stroke-width="3.6" stroke-linecap="round"/>
<line x1="407.8" y1="271.9" x2="415.1" y2="271.9" stroke="#0f4c60" stroke-width="3.6" stroke-linecap="round"/>
<line x1="410.2" y1="274.3" x2="412.2" y2="274.3" stroke="#0f4c60" stroke-width="3.6" stroke-linecap="round"/>
<line x1="406.8" y1="279" x2="416" y2="279" stroke="#0f4c60" stroke-width="3.6" stroke-linecap="round"/>
<line x1="406.8" y1="281.4" x2="416" y2="281.4" stroke="#0f4c60" stroke-width="3.6" stroke-linecap="round"/>
<line x1="406.8" y1="283.7" x2="416" y2="283.7" stroke="#0f4c60" stroke-width="3.6" stroke-linecap="round"/>
<line x1="406.8" y1="286.1" x2="416" y2="286.1" stroke="#0f4c60" stroke-width="3.6" stroke-linecap="round"/>
<line x1="407.3" y1="288" x2="415.5" y2="288" stroke="#0f4c60" stroke-width="3.6" stroke-linecap="round"/>
<circle cx="445.6" cy="250.5" r="1.8" fill="#1a95b4"/>
<circle cx="445.6" cy="257.6" r="1.8" fill="#1a95b4"/>
<line x1="444.7" y1="263.8" x2="447.3" y2="263.8" stroke="#1a95b4" stroke-width="3.6" stroke-linecap="round"/>
<line x1="445.7" y1="266.1" x2="446.1" y2="266.1" stroke="#1a95b4" stroke-width="3.6" stroke-linecap="round"/>
<line x1="445.3" y1="268.9" x2="446.2" y2="268.9" stroke="#1a95b4" stroke-width="3.6" stroke-linecap="round"/>
<line x1="441.5" y1="271.7" x2="449.7" y2="271.7" stroke="#1a95b4" stroke-width="3.6" stroke-linecap="round"/>
<line x1="444.7" y1="274.5" x2="447.3" y2="274.5" stroke="#1a95b4" stroke-width="3.6" stroke-linecap="round"/>
<line x1="445.3" y1="277.4" x2="446.7" y2="277.4" stroke="#1a95b4" stroke-width="3.6" stroke-linecap="round"/>
<circle cx="445.75" cy="280.2" r="1.8" fill="#1a95b4"/>
<circle cx="466.4" cy="235.6" r="1.8" fill="#0f4c60"/>
<line x1="466" y1="257" x2="466.5" y2="257" stroke="#0f4c60" stroke-width="3.6" stroke-linecap="round"/>
<line x1="465" y1="259.9" x2="467" y2="259.9" stroke="#0f4c60" stroke-width="3.6" stroke-linecap="round"/>
<circle cx="466" cy="262.7" r="1.8" fill="#0f4c60"/>
<line x1="464.4" y1="265.5" x2="467.6" y2="265.5" stroke="#0f4c60" stroke-width="3.6" stroke-linecap="round"/>
<circle cx="466" cy="268.9" r="1.8" fill="#0f4c60"/>
<line x1="462.2" y1="272.3" x2="470.2" y2="272.3" stroke="#0f4c60" stroke-width="3.6" stroke-linecap="round"/>
<circle cx="461.5" cy="276.2" r="1.8" fill="#0f4c60"/>
<circle cx="471.1" cy="276.2" r="1.8" fill="#0f4c60"/>
<line x1="462.2" y1="279.6" x2="470.2" y2="279.6" stroke="#0f4c60" stroke-width="3.6" stroke-linecap="round"/>
<line x1="464.4" y1="282.4" x2="467.6" y2="282.4" stroke="#0f4c60" stroke-width="3.6" stroke-linecap="round"/>
<line x1="465.5" y1="285.2" x2="466.5" y2="285.2" stroke="#0f4c60" stroke-width="3.6" stroke-linecap="round"/>
<circle cx="466" cy="288.1" r="1.8" fill="#0f4c60"/>
<circle cx="500.6" cy="250.3" r="1.8" fill="#1a95b4"/>
<circle cx="500.6" cy="257.2" r="1.8" fill="#1a95b4"/>
<line x1="500.5" y1="259.8" x2="500.9" y2="259.8" stroke="#1a95b4" stroke-width="3.6" stroke-linecap="round"/>
<circle cx="500.65" cy="262.3" r="1.8" fill="#1a95b4"/>
<line x1="496.9" y1="264.9" x2="504.5" y2="264.9" stroke="#1a95b4" stroke-width="3.6" stroke-linecap="round"/>
<line x1="496.4" y1="272.5" x2="504.8" y2="272.5" stroke="#1a95b4" stroke-width="3.6" stroke-linecap="round"/>
<line x1="496.4" y1="274.5" x2="504.8" y2="274.5" stroke="#1a95b4" stroke-width="3.6" stroke-linecap="round"/>
<line x1="496.4" y1="276.6" x2="504.8" y2="276.6" stroke="#1a95b4" stroke-width="3.6" stroke-linecap="round"/>
<line x1="496.4" y1="279.1" x2="504.8" y2="279.1" stroke="#1a95b4" stroke-width="3.6" stroke-linecap="round"/>
<line x1="499.4" y1="281.7" x2="501.9" y2="281.7" stroke="#1a95b4" stroke-width="3.6" stroke-linecap="round"/>
<circle cx="500.4" cy="284.2" r="1.8" fill="#1a95b4"/>
<circle cx="500.35" cy="286.8" r="1.8" fill="#1a95b4"/>
<circle cx="500.6" cy="288.8" r="1.8" fill="#1a95b4"/>
<circle cx="500.6" cy="294.4" r="1.8" fill="#1a95b4"/>
<circle cx="521.1" cy="257.2" r="1.8" fill="#0f4c60"/>
<circle cx="521.1" cy="259.8" r="1.8" fill="#0f4c60"/>
<circle cx="521.1" cy="262.3" r="1.8" fill="#0f4c60"/>
<line x1="520.8" y1="264.9" x2="521.8" y2="264.9" stroke="#0f4c60" stroke-width="3.6" stroke-linecap="round"/>
<line x1="517.8" y1="271.5" x2="524.4" y2="271.5" stroke="#0f4c60" stroke-width="3.6" stroke-linecap="round"/>
<line x1="518.8" y1="273.5" x2="523.3" y2="273.5" stroke="#0f4c60" stroke-width="3.6" stroke-linecap="round"/>
<line x1="520.3" y1="276.6" x2="521.8" y2="276.6" stroke="#0f4c60" stroke-width="3.6" stroke-linecap="round"/>
<line x1="516.8" y1="279.6" x2="525.4" y2="279.6" stroke="#0f4c60" stroke-width="3.6" stroke-linecap="round"/>
<line x1="516.8" y1="282.7" x2="525.4" y2="282.7" stroke="#0f4c60" stroke-width="3.6" stroke-linecap="round"/>
<line x1="516.8" y1="285.8" x2="525.4" y2="285.8" stroke="#0f4c60" stroke-width="3.6" stroke-linecap="round"/>
<line x1="516.8" y1="288.3" x2="525.4" y2="288.3" stroke="#0f4c60" stroke-width="3.6" stroke-linecap="round"/>
<line x1="520.8" y1="294.4" x2="521.3" y2="294.4" stroke="#0f4c60" stroke-width="3.6" stroke-linecap="round"/>
<line x1="497" y1="276.6" x2="499" y2="276.6" stroke="#fff" stroke-width="1.6"/>
<line x1="502.5" y1="276.6" x2="504.5" y2="276.6" stroke="#fff" stroke-width="1.6"/>
<line x1="516.8" y1="282.7" x2="518.6" y2="282.7" stroke="#fff" stroke-width="1.6"/>
<line x1="523.6" y1="282.7" x2="525.4" y2="282.7" stroke="#fff" stroke-width="1.6"/>
<line x1="56.6" y1="441.9" x2="56.6" y2="466.4" stroke="#1a95b4" stroke-width="0.9"/>
<line x1="54.4" y1="466.4" x2="58.8" y2="466.4" stroke="#1a95b4" stroke-width="0.9"/>
<circle cx="54.6" cy="441.9" r="1.8" fill="#1a95b4"/>
<circle cx="58.6" cy="441.9" r="1.8" fill="#1a95b4"/>
<circle cx="51.3" cy="448.3" r="1.8" fill="#1a95b4"/>
<circle cx="54.6" cy="450" r="1.8" fill="#1a95b4"/>
<circle cx="58.6" cy="450" r="1.8" fill="#1a95b4"/>
<circle cx="62" cy="450" r="1.8" fill="#1a95b4"/>
<circle cx="56.6" cy="452.4" r="1.8" fill="#1a95b4"/>
<circle cx="56.6" cy="455.9" r="1.8" fill="#1a95b4"/>
<circle cx="56.6" cy="462.3" r="1.8" fill="#1a95b4"/>
<circle cx="56.6" cy="482.1" r="1.8" fill="#1a95b4"/>
<line x1="76.6" y1="443" x2="76.6" y2="465.8" stroke="#0f4c60" stroke-width="0.9"/>
<line x1="74.4" y1="465.8" x2="78.8" y2="465.8" stroke="#0f4c60" stroke-width="0.9"/>
<circle cx="71.6" cy="443.7" r="1.8" fill="#0f4c60"/>
<circle cx="76.8" cy="443.7" r="1.8" fill="#0f4c60"/>
<circle cx="81.8" cy="443.7" r="1.8" fill="#0f4c60"/>
<circle cx="71.6" cy="447.2" r="1.8" fill="#0f4c60"/>
<circle cx="76.8" cy="447.2" r="1.8" fill="#0f4c60"/>
<circle cx="71.6" cy="450.5" r="1.8" fill="#0f4c60"/>
<circle cx="76.8" cy="453" r="1.8" fill="#0f4c60"/>
<circle cx="76.8" cy="455.3" r="1.8" fill="#0f4c60"/>
<circle cx="76.8" cy="471" r="1.8" fill="#0f4c60"/>
<circle cx="76.8" cy="475.7" r="1.8" fill="#0f4c60"/>
<line x1="109.8" y1="436.5" x2="111" y2="436.5" stroke="#1a95b4" stroke-width="3.6" stroke-linecap="round"/>
<line x1="109.4" y1="438.9" x2="112.4" y2="438.9" stroke="#1a95b4" stroke-width="3.6" stroke-linecap="round"/>
<line x1="108.4" y1="441.2" x2="113.3" y2="441.2" stroke="#1a95b4" stroke-width="3.6" stroke-linecap="round"/>
<line x1="108.9" y1="443.6" x2="112.4" y2="443.6" stroke="#1a95b4" stroke-width="3.6" stroke-linecap="round"/>
<line x1="107" y1="446" x2="115.7" y2="446" stroke="#1a95b4" stroke-width="3.6" stroke-linecap="round"/>
<line x1="106.5" y1="448.3" x2="116.6" y2="448.3" stroke="#1a95b4" stroke-width="3.6" stroke-linecap="round"/>
<line x1="107" y1="450.7" x2="115.7" y2="450.7" stroke="#1a95b4" stroke-width="3.6" stroke-linecap="round"/>
<line x1="107" y1="453.5" x2="116.2" y2="453.5" stroke="#1a95b4" stroke-width="3.6" stroke-linecap="round"/>
<line x1="107.5" y1="456.4" x2="115.2" y2="456.4" stroke="#1a95b4" stroke-width="3.6" stroke-linecap="round"/>
<line x1="107.9" y1="459.2" x2="114.8" y2="459.2" stroke="#1a95b4" stroke-width="3.6" stroke-linecap="round"/>
<line x1="108.4" y1="462.1" x2="114.3" y2="462.1" stroke="#1a95b4" stroke-width="3.6" stroke-linecap="round"/>
<line x1="108.9" y1="464.9" x2="113.3" y2="464.9" stroke="#1a95b4" stroke-width="3.6" stroke-linecap="round"/>
<line x1="110.3" y1="466.8" x2="112.4" y2="466.8" stroke="#1a95b4" stroke-width="3.6" stroke-linecap="round"/>
<circle cx="111.2" cy="473.4" r="1.8" fill="#1a95b4"/>
<circle cx="132.3" cy="435.1" r="1.8" fill="#0f4c60"/>
<circle cx="132.2" cy="437.5" r="1.8" fill="#0f4c60"/>
<line x1="131.6" y1="439.8" x2="133.2" y2="439.8" stroke="#0f4c60" stroke-width="3.6" stroke-linecap="round"/>
<line x1="131.1" y1="442.2" x2="134.2" y2="442.2" stroke="#0f4c60" stroke-width="3.6" stroke-linecap="round"/>
<line x1="128.3" y1="444.6" x2="136" y2="444.6" stroke="#0f4c60" stroke-width="3.6" stroke-linecap="round"/>
<line x1="127.8" y1="446.9" x2="136.5" y2="446.9" stroke="#0f4c60" stroke-width="3.6" stroke-linecap="round"/>
<line x1="127.8" y1="449.3" x2="136.5" y2="449.3" stroke="#0f4c60" stroke-width="3.6" stroke-linecap="round"/>
<line x1="128.8" y1="451.7" x2="136" y2="451.7" stroke="#0f4c60" stroke-width="3.6" stroke-linecap="round"/>
<line x1="130.2" y1="454" x2="133.7" y2="454" stroke="#0f4c60" stroke-width="3.6" stroke-linecap="round"/>
<line x1="130.7" y1="456.4" x2="132.7" y2="456.4" stroke="#0f4c60" stroke-width="3.6" stroke-linecap="round"/>
<circle cx="131.95" cy="458.3" r="1.8" fill="#0f4c60"/>
<line x1="130.7" y1="463" x2="133.2" y2="463" stroke="#0f4c60" stroke-width="3.6" stroke-linecap="round"/>
<circle cx="132.2" cy="465.4" r="1.8" fill="#0f4c60"/>
<circle cx="132.3" cy="468.7" r="1.8" fill="#0f4c60"/>
<line x1="164.2" y1="437.2" x2="164.8" y2="437.2" stroke="#1a95b4" stroke-width="3.6" stroke-linecap="round"/>
<line x1="165" y1="439.2" x2="166.2" y2="439.2" stroke="#1a95b4" stroke-width="3.6" stroke-linecap="round"/>
<line x1="161.8" y1="442" x2="165.4" y2="442" stroke="#1a95b4" stroke-width="3.6" stroke-linecap="round"/>
<circle cx="171.4" cy="442" r="1.8" fill="#1a95b4"/>
<line x1="161.8" y1="444.4" x2="171" y2="444.4" stroke="#1a95b4" stroke-width="3.6" stroke-linecap="round"/>
<line x1="162.2" y1="446.8" x2="170.2" y2="446.8" stroke="#1a95b4" stroke-width="3.6" stroke-linecap="round"/>
<line x1="161.8" y1="449.2" x2="171.4" y2="449.2" stroke="#1a95b4" stroke-width="3.6" stroke-linecap="round"/>
<line x1="162.2" y1="451.2" x2="171" y2="451.2" stroke="#1a95b4" stroke-width="3.6" stroke-linecap="round"/>
<line x1="164.6" y1="453.2" x2="167" y2="453.2" stroke="#1a95b4" stroke-width="3.6" stroke-linecap="round"/>
<line x1="165.4" y1="455.6" x2="166.6" y2="455.6" stroke="#1a95b4" stroke-width="3.6" stroke-linecap="round"/>
<line x1="165.8" y1="458" x2="167" y2="458" stroke="#1a95b4" stroke-width="3.6" stroke-linecap="round"/>
<circle cx="166.4" cy="460.4" r="1.8" fill="#1a95b4"/>
<circle cx="166.4" cy="466.8" r="1.8" fill="#1a95b4"/>
<circle cx="183.6" cy="439.6" r="1.8" fill="#0f4c60"/>
<circle cx="186.8" cy="440.6" r="1.8" fill="#0f4c60"/>
<circle cx="190" cy="439.6" r="1.8" fill="#0f4c60"/>
<circle cx="186.7" cy="442.2" r="1.8" fill="#0f4c60"/>
<line x1="185.8" y1="444.8" x2="187.8" y2="444.8" stroke="#0f4c60" stroke-width="3.6" stroke-linecap="round"/>
<line x1="182.2" y1="447.6" x2="191.4" y2="447.6" stroke="#0f4c60" stroke-width="3.6" stroke-linecap="round"/>
<line x1="182.6" y1="449.2" x2="191.8" y2="449.2" stroke="#0f4c60" stroke-width="3.6" stroke-linecap="round"/>
<line x1="182.8" y1="451.2" x2="191.2" y2="451.2" stroke="#0f4c60" stroke-width="3.6" stroke-linecap="round"/>
<line x1="185" y1="454" x2="188.6" y2="454" stroke="#0f4c60" stroke-width="3.6" stroke-linecap="round"/>
<line x1="185.4" y1="456.4" x2="189.4" y2="456.4" stroke="#0f4c60" stroke-width="3.6" stroke-linecap="round"/>
<line x1="185.8" y1="458.8" x2="188.6" y2="458.8" stroke="#0f4c60" stroke-width="3.6" stroke-linecap="round"/>
<line x1="186.6" y1="461.2" x2="187.8" y2="461.2" stroke="#0f4c60" stroke-width="3.6" stroke-linecap="round"/>
<circle cx="187.2" cy="462.8" r="1.8" fill="#0f4c60"/>
<circle cx="186.8" cy="466.8" r="1.8" fill="#0f4c60"/>
<circle cx="221.8" cy="434.4" r="1.8" fill="#1a95b4"/>
<line x1="221.1" y1="438.8" x2="222.5" y2="438.8" stroke="#1a95b4" stroke-width="3.6" stroke-linecap="round"/>
<line x1="220.8" y1="441.5" x2="223.2" y2="441.5" stroke="#1a95b4" stroke-width="3.6" stroke-linecap="round"/>
<line x1="219.3" y1="444" x2="224.7" y2="444" stroke="#1a95b4" stroke-width="3.6" stroke-linecap="round"/>
<line x1="217" y1="446.5" x2="226.6" y2="446.5" stroke="#1a95b4" stroke-width="3.6" stroke-linecap="round"/>
<line x1="216.6" y1="449" x2="227" y2="449" stroke="#1a95b4" stroke-width="3.6" stroke-linecap="round"/>
<line x1="217.3" y1="451.5" x2="226.2" y2="451.5" stroke="#1a95b4" stroke-width="3.6" stroke-linecap="round"/>
<line x1="218.8" y1="454" x2="224.7" y2="454" stroke="#1a95b4" stroke-width="3.6" stroke-linecap="round"/>
<line x1="219.6" y1="456.5" x2="223.7" y2="456.5" stroke="#1a95b4" stroke-width="3.6" stroke-linecap="round"/>
<line x1="220.1" y1="459" x2="223" y2="459" stroke="#1a95b4" stroke-width="3.6" stroke-linecap="round"/>
<line x1="220.6" y1="461.5" x2="222" y2="461.5" stroke="#1a95b4" stroke-width="3.6" stroke-linecap="round"/>
<circle cx="221.8" cy="463.2" r="1.8" fill="#1a95b4"/>
<circle cx="242.3" cy="432.8" r="1.8" fill="#0f4c60"/>
<line x1="241.6" y1="438.2" x2="243" y2="438.2" stroke="#0f4c60" stroke-width="3.6" stroke-linecap="round"/>
<line x1="240.1" y1="441" x2="244.5" y2="441" stroke="#0f4c60" stroke-width="3.6" stroke-linecap="round"/>
<line x1="238.1" y1="444" x2="246.5" y2="444" stroke="#0f4c60" stroke-width="3.6" stroke-linecap="round"/>
<line x1="237.4" y1="447" x2="247.4" y2="447" stroke="#0f4c60" stroke-width="3.6" stroke-linecap="round"/>
<line x1="237.4" y1="450" x2="247.4" y2="450" stroke="#0f4c60" stroke-width="3.6" stroke-linecap="round"/>
<line x1="238.4" y1="452.5" x2="246.6" y2="452.5" stroke="#0f4c60" stroke-width="3.6" stroke-linecap="round"/>
<line x1="239.4" y1="455.1" x2="245.2" y2="455.1" stroke="#0f4c60" stroke-width="3.6" stroke-linecap="round"/>
<circle cx="242.3" cy="469.7" r="1.8" fill="#0f4c60"/>
</svg>
</body></html>
